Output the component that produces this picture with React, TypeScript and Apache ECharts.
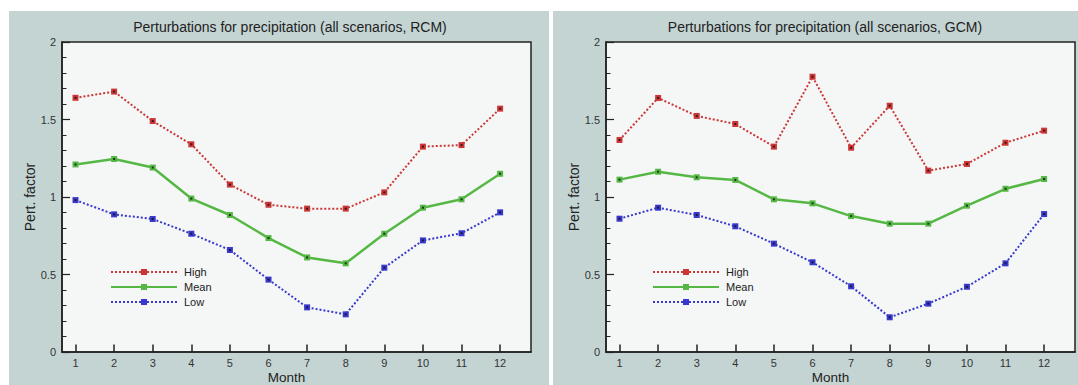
import React, { useEffect, useRef } from "react";
import * as echarts from "echarts";

const months = [1, 2, 3, 4, 5, 6, 7, 8, 9, 10, 11, 12];
const yTicks = [0, 0.5, 1, 1.5, 2];

const rcmHigh = [1.64, 1.68, 1.49, 1.34, 1.08, 0.95, 0.925, 0.925, 1.03, 1.325, 1.335, 1.57];
const rcmMean = [1.21, 1.245, 1.19, 0.99, 0.884, 0.735, 0.61, 0.572, 0.763, 0.931, 0.985, 1.15];
const rcmLow = [0.98, 0.888, 0.858, 0.763, 0.658, 0.467, 0.288, 0.243, 0.544, 0.72, 0.766, 0.901];

const gcmHigh = [1.368, 1.639, 1.523, 1.471, 1.325, 1.776, 1.318, 1.589, 1.17, 1.213, 1.35, 1.428];
const gcmMean = [1.112, 1.163, 1.127, 1.11, 0.985, 0.959, 0.877, 0.828, 0.828, 0.944, 1.053, 1.116];
const gcmLow = [0.86, 0.931, 0.884, 0.811, 0.699, 0.579, 0.424, 0.224, 0.312, 0.421, 0.572, 0.89];

const seriesNames = ["High", "Mean", "Low"];
const titles = [
  "Perturbations for precipitation (all scenarios, RCM)",
  "Perturbations for precipitation (all scenarios, GCM)",
];

const RED = "#cc3636";
const GREEN = "#55b844";
const BLUE = "#3838cc";
const FONT = "Liberation Sans, Arial, sans-serif";

export default function App() {
  const ref = useRef<HTMLDivElement>(null);
  useEffect(() => {
    if (!ref.current) return;
    const chart = echarts.init(ref.current, null, { renderer: "svg" });
    const panels = [
      { grid: { left: 62, top: 42, width: 469, height: 310 }, data: [rcmHigh, rcmMean, rcmLow], titleX: 290, legendX: 110 },
      { grid: { left: 606, top: 42, width: 469, height: 310 }, data: [gcmHigh, gcmMean, gcmLow], titleX: 825, legendX: 652 },
    ];
    const styles = [
      { color: RED, type: [2, 2] as any, width: 2 },
      { color: GREEN, type: "solid" as any, width: 2.5 },
      { color: BLUE, type: [2, 2] as any, width: 2 },
    ];
    const series: any[] = [];
    panels.forEach((p, pi) => {
      p.data.forEach((vals, si) => {
        const pts = months.map((m, i) => [m, vals[i]]);
        series.push({
          name: seriesNames[si],
          type: "line",
          xAxisIndex: pi,
          yAxisIndex: pi,
          data: pts,
          symbol: "rect",
          symbolSize: 6,
          showSymbol: true,
          itemStyle: { color: styles[si].color },
          lineStyle: { color: styles[si].color, width: styles[si].width, type: styles[si].type },
          z: 3,
        });
        series.push({
          name: "_dot" + pi + si,
          type: "scatter",
          xAxisIndex: pi,
          yAxisIndex: pi,
          data: pts,
          symbol: "rect",
          symbolSize: 2,
          itemStyle: { color: "#111" },
          z: 4,
          silent: true,
        });
      });
    });
    const option: any = {
      animation: false,
      backgroundColor: "#ffffff",
      textStyle: { fontFamily: FONT },
      graphic: [
        { type: "rect", shape: { x: 9, y: 11, width: 540, height: 374 }, style: { fill: "#c4d4d3" }, z: -10, silent: true },
        { type: "rect", shape: { x: 553, y: 11, width: 525, height: 374 }, style: { fill: "#c4d4d3" }, z: -10, silent: true },
      ],
      title: panels.map((p, i) => ({
        text: titles[i],
        left: p.titleX,
        top: 20,
        textAlign: "center",
        padding: 0,
        textStyle: { fontSize: 14, fontWeight: "normal", color: "#222", fontFamily: FONT },
      })),
      legend: panels.map((p) => ({
        data: seriesNames,
        orient: "vertical",
        left: p.legendX,
        top: 266,
        padding: 0,
        itemWidth: 66,
        itemHeight: 7.5,
        itemGap: 3,
        selectedMode: false,
        textStyle: { fontSize: 11, color: "#222", lineHeight: 12, fontFamily: FONT, padding: [0, 0, 0, 2] },
      })),
      grid: panels.map((p) => ({
        ...p.grid,
        show: true,
        backgroundColor: "#f5f7f7",
        borderColor: "#222",
        borderWidth: 1.5,
        containLabel: false,
        outerBoundsMode: "none",
      })),
      xAxis: panels.map((_, i) => ({
        type: "value",
        gridIndex: i,
        min: 0.65,
        max: 12.8,
        name: "Month",
        nameLocation: "middle",
        nameGap: 19,
        nameMoveOverlap: false,
        nameTextStyle: { fontSize: 13.5, lineHeight: 13, color: "#222", padding: [0, 20, 0, 0], fontFamily: FONT },
        axisLine: { show: true, lineStyle: { color: "#222", width: 1.5 } },
        axisTick: { show: true, inside: true, length: 7.5, customValues: months, lineStyle: { color: "#222", width: 1.5 } },
        axisLabel: { customValues: months, fontSize: 11, color: "#333", margin: 5, fontFamily: FONT },
        splitLine: { show: false },
      })),
      yAxis: panels.map((_, i) => ({
        type: "value",
        gridIndex: i,
        min: 0,
        max: 2,
        interval: 0.5,
        name: "Pert. factor",
        nameLocation: "middle",
        nameGap: 25,
        nameMoveOverlap: false,
        nameTextStyle: { fontSize: 14, color: "#222", fontFamily: FONT },
        axisLine: { show: true, lineStyle: { color: "#222", width: 1.5 } },
        axisTick: { show: true, inside: true, length: 8, lineStyle: { color: "#222", width: 1.2 } },
        minorTick: { show: true, splitNumber: 5, length: 4.5, lineStyle: { color: "#222", width: 1 } },
        axisLabel: {
          fontSize: 11,
          color: "#333",
          margin: 6,
          fontFamily: FONT,
          formatter: (v: number) => (yTicks.includes(v) ? String(v) : ""),
        },
        splitLine: { show: false },
      })),
      series,
    };
    chart.setOption(option);
    return () => chart.dispose();
  }, []);
  return (
    <div
      ref={ref}
      style={{ position: "fixed", left: 0, top: 0, width: 1078, height: 385 }}
    />
  );
}
